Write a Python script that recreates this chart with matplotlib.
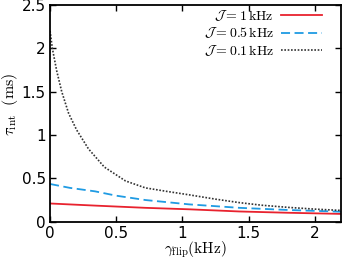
import matplotlib
matplotlib.use("Agg")
import matplotlib.pyplot as plt

plt.rcParams['mathtext.fontset'] = 'cm'

# values (gamma_flip in kHz, tau_int in ms)
g_01 = [0.0, 0.017, 0.05, 0.088, 0.14, 0.2, 0.29, 0.41, 0.57, 0.72, 0.88,
        1.05, 1.25, 1.43, 1.6, 1.8, 2.0, 2.2]
tau_01 = [2.2, 2.0, 1.74, 1.5, 1.25, 1.06, 0.84, 0.63, 0.47, 0.39, 0.35,
          0.31, 0.26, 0.22, 0.19, 0.165, 0.145, 0.13]

g_05 = [0.0, 0.15, 0.34, 0.5, 0.72, 1.05, 1.43, 1.8, 2.2]
tau_05 = [0.435, 0.39, 0.35, 0.3, 0.25, 0.2, 0.16, 0.135, 0.115]

g_1 = [0.0, 0.35, 0.72, 1.05, 1.43, 1.8, 2.2]
tau_1 = [0.21, 0.185, 0.16, 0.143, 0.118, 0.103, 0.09]

labels = [r'$\mathcal{J}=1\,{\rm kHz}$', r'$\mathcal{J}=0.5\,{\rm kHz}$',
          r'$\mathcal{J}=0.1\,{\rm kHz}$']

fig = plt.figure(figsize=(3.43, 2.59), dpi=100)
ax = fig.add_axes([0.146, 0.144, 0.849, 0.837])

ax.plot(g_1, tau_1, color='#e8222e', lw=1.3, label=labels[0])
ax.plot(g_05, tau_05, color='#1f9be3', lw=1.3, ls=(0, (5, 2.5)), label=labels[1])
ax.plot(g_01, tau_01, color='#333333', lw=1.2, ls=(0, (1, 1)), label=labels[2])

ax.set_xlim(0, 2.2)
ax.set_ylim(0, 2.5)
ax.set_xticks([0, 0.5, 1, 1.5, 2])
ax.set_xticklabels(['0', '0.5', '1', '1.5', '2'])
ax.set_yticks([0, 0.5, 1, 1.5, 2, 2.5])
ax.set_yticklabels(['0', '0.5', '1', '1.5', '2', '2.5'])
ax.tick_params(direction='in', top=True, right=True, length=4, width=1,
               labelsize=11, pad=3)
for s in ax.spines.values():
    s.set_linewidth(1.3)

ax.set_xlabel(r'$\gamma_{\rm flip}({\rm kHz})$', fontsize=11, va='top')
ax.xaxis.set_label_coords(0.5, -0.083)
ax.set_ylabel(r'$\tau_{\rm int}\ \ ({\rm ms})$', fontsize=11.5, va='center')
ax.yaxis.set_label_coords(-0.137, 0.54)

ax.legend(loc='upper right', bbox_to_anchor=(0.935, 0.985), frameon=False,
          markerfirst=False, fontsize=10, handlelength=3.0, labelspacing=0.2,
          borderaxespad=0, borderpad=0, handletextpad=0.5)

fig.savefig('out.png', dpi=100)
